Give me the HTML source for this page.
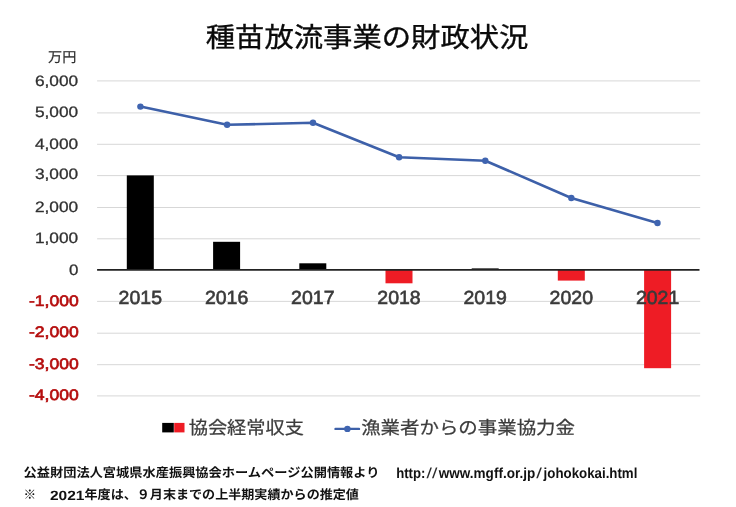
<!DOCTYPE html>
<html lang="ja">
<head>
<meta charset="utf-8">
<title>種苗放流事業の財政状況</title>
<style>
  html, body { margin: 0; padding: 0; background: #ffffff; }
  body { width: 736px; height: 507px; overflow: hidden; }
  svg { display: block; filter: blur(0.35px); }
  text { text-rendering: geometricPrecision; }
  .jp  { font-family: "Liberation Sans", "Noto Sans CJK JP", sans-serif; }
  .lat { font-family: "Liberation Sans", sans-serif; }
  .title { font-size: 27.4px; fill: #0a0a0a; stroke: #0a0a0a; stroke-width: 0.35px; }
  .unit { font-size: 14px; fill: #2e2e2e; stroke: #2e2e2e; stroke-width: 0.2px; }
  .ylab { font-size: 15px; fill: #303030; stroke: #303030; stroke-width: 0.3px; }
  .yneg { font-size: 15.3px; fill: #b50e0e; stroke: #b50e0e; stroke-width: 0.65px; }
  .xlab { font-size: 19px; fill: #3a3a3a; stroke: #3a3a3a; stroke-width: 0.6px; }
  .leg  { font-size: 18px; fill: #3c3c3c; stroke: #3c3c3c; stroke-width: 0.25px; }
  .sl { font-weight: normal; fill: #2a2a2a; }
  .foot { font-size: 12.8px; fill: #111111; font-weight: bold; }
</style>
</head>
<body>
<svg width="736" height="507" viewBox="0 0 736 507">
  <rect x="0" y="0" width="736" height="507" fill="#ffffff"/>

  <!-- title -->
  <text class="jp title" x="205.8" y="47.2" textLength="322.6" lengthAdjust="spacingAndGlyphs">種苗放流事業の財政状況</text>

  <!-- unit -->
  <text class="jp unit" x="48.1" y="62.2" textLength="28.2" lengthAdjust="spacingAndGlyphs">万円</text>

  <!-- gridlines -->
  <g stroke="#d2d2d2" stroke-width="0.9">
    <line x1="97.1" x2="700.2" y1="80.9" y2="80.9"/>
    <line x1="97.1" x2="700.2" y1="112.9" y2="112.9"/>
    <line x1="97.1" x2="700.2" y1="144.3" y2="144.3"/>
    <line x1="97.1" x2="700.2" y1="175.6" y2="175.6"/>
    <line x1="97.1" x2="700.2" y1="207.5" y2="207.5"/>
    <line x1="97.1" x2="700.2" y1="238.8" y2="238.8"/>
    <line x1="97.1" x2="700.2" y1="301.4" y2="301.4"/>
    <line x1="97.1" x2="700.2" y1="333.2" y2="333.2"/>
    <line x1="97.1" x2="700.2" y1="364.7" y2="364.7"/>
    <line x1="97.1" x2="700.2" y1="395.9" y2="395.9"/>
  </g>

  <!-- y axis labels -->
  <g class="lat">
    <text class="ylab" x="34.9" y="86.1" textLength="43.3" lengthAdjust="spacingAndGlyphs">6,000</text>
    <text class="ylab" x="34.9" y="116.9" textLength="43.3" lengthAdjust="spacingAndGlyphs">5,000</text>
    <text class="ylab" x="34.9" y="148.7" textLength="43.3" lengthAdjust="spacingAndGlyphs">4,000</text>
    <text class="ylab" x="34.9" y="179.4" textLength="43.3" lengthAdjust="spacingAndGlyphs">3,000</text>
    <text class="ylab" x="34.9" y="211.9" textLength="43.3" lengthAdjust="spacingAndGlyphs">2,000</text>
    <text class="ylab" x="34.9" y="243.1" textLength="43.3" lengthAdjust="spacingAndGlyphs">1,000</text>
    <text class="ylab" x="69.1" y="274.8" textLength="9.4" lengthAdjust="spacingAndGlyphs">0</text>
    <text class="yneg" x="29" y="306.4" textLength="49.8" lengthAdjust="spacingAndGlyphs">-1,000</text>
    <text class="yneg" x="29" y="337.4" textLength="49.8" lengthAdjust="spacingAndGlyphs">-2,000</text>
    <text class="yneg" x="29" y="369.4" textLength="49.8" lengthAdjust="spacingAndGlyphs">-3,000</text>
    <text class="yneg" x="29" y="400.4" textLength="49.8" lengthAdjust="spacingAndGlyphs">-4,000</text>
  </g>

  <!-- bars -->
  <g>
    <rect x="126.8" y="175.4" width="27.0" height="94.5" fill="#000000"/>
    <rect x="213.1" y="241.8" width="27.0" height="28.1" fill="#000000"/>
    <rect x="299.3" y="263.3" width="27.0" height="6.6" fill="#000000"/>
    <rect x="385.5" y="269.9" width="27.0" height="13.4" fill="#ee1c25"/>
    <rect x="471.7" y="268.4" width="27.0" height="1.5" fill="#000000"/>
    <rect x="557.8" y="269.9" width="27.0" height="10.7" fill="#ee1c25"/>
    <rect x="644.1" y="269.9" width="27.0" height="98.3" fill="#ee1c25"/>
  </g>

  <!-- zero axis -->
  <line x1="97.1" x2="699.5" y1="269.9" y2="269.9" stroke="#222222" stroke-width="1.6"/>

  <!-- category labels -->
  <g class="lat">
    <text class="xlab" x="118.6" y="303.6" textLength="43.4" lengthAdjust="spacingAndGlyphs">2015</text>
    <text class="xlab" x="204.9" y="303.6" textLength="43.4" lengthAdjust="spacingAndGlyphs">2016</text>
    <text class="xlab" x="291.1" y="303.6" textLength="43.4" lengthAdjust="spacingAndGlyphs">2017</text>
    <text class="xlab" x="377.3" y="303.6" textLength="43.4" lengthAdjust="spacingAndGlyphs">2018</text>
    <text class="xlab" x="463.5" y="303.6" textLength="43.4" lengthAdjust="spacingAndGlyphs">2019</text>
    <text class="xlab" x="549.6" y="303.6" textLength="43.4" lengthAdjust="spacingAndGlyphs">2020</text>
    <text class="xlab" x="635.9" y="303.6" textLength="43.4" lengthAdjust="spacingAndGlyphs">2021</text>
  </g>

  <!-- line series -->
  <polyline fill="none" stroke="#3d60a9" stroke-width="2.6" stroke-linejoin="round" stroke-linecap="round"
    points="140.4,106.6 227.1,124.8 313.0,122.8 399.1,157.3 485.3,160.7 571.3,198.0 657.5,223.0"/>
  <g fill="#3f64b0">
    <circle cx="140.4" cy="106.6" r="3.2"/>
    <circle cx="227.1" cy="124.8" r="3.2"/>
    <circle cx="313.0" cy="122.8" r="3.2"/>
    <circle cx="399.1" cy="157.3" r="3.2"/>
    <circle cx="485.3" cy="160.7" r="3.2"/>
    <circle cx="571.3" cy="198.0" r="3.2"/>
    <circle cx="657.5" cy="223.0" r="3.2"/>
  </g>

  <!-- legend -->
  <rect x="162.2" y="422.9" width="11.6" height="9.5" fill="#000000"/>
  <rect x="174.2" y="422.9" width="10.3" height="9.5" fill="#ee1c25"/>
  <text class="jp leg" x="188.7" y="433.5" textLength="115.2" lengthAdjust="spacingAndGlyphs">協会経常収支</text>

  <line x1="335.5" x2="359" y1="428.9" y2="428.9" stroke="#3d60a9" stroke-width="2.4" stroke-linecap="round"/>
  <circle cx="347.4" cy="428.9" r="3.2" fill="#3f64b0"/>
  <text class="jp leg" x="361.2" y="433.6" textLength="213.8" lengthAdjust="spacingAndGlyphs">漁業者からの事業協力金</text>

  <!-- footer -->
  <text class="jp foot" x="23.5" y="477.4" textLength="356" lengthAdjust="spacingAndGlyphs">公益財団法人宮城県水産振興協会ホームページ公開情報より</text>
  <text class="jp foot" style="font-size:14.5px" y="478"><tspan x="396.2" textLength="29.2" lengthAdjust="spacingAndGlyphs">http:</tspan><tspan class="sl" x="426.6" textLength="10.8" lengthAdjust="spacingAndGlyphs">//</tspan><tspan x="438.8" textLength="96.4" lengthAdjust="spacingAndGlyphs">www.mgff.or.jp</tspan><tspan class="sl" x="536.3" textLength="5.6" lengthAdjust="spacingAndGlyphs">/</tspan><tspan x="543.6" textLength="93.8" lengthAdjust="spacingAndGlyphs">johokokai.html</tspan></text>
  <text class="jp foot" x="23.6" y="499.3" textLength="12.6" lengthAdjust="spacingAndGlyphs">※</text>
  <text class="jp foot" style="font-size:13.4px" x="49.9" y="499.9" textLength="34.5" lengthAdjust="spacingAndGlyphs">2021</text>
  <text class="jp foot" x="84.5" y="499.3" textLength="274.4" lengthAdjust="spacingAndGlyphs">年度は、９月末までの上半期実績からの推定値</text>
</svg>
</body>
</html>
